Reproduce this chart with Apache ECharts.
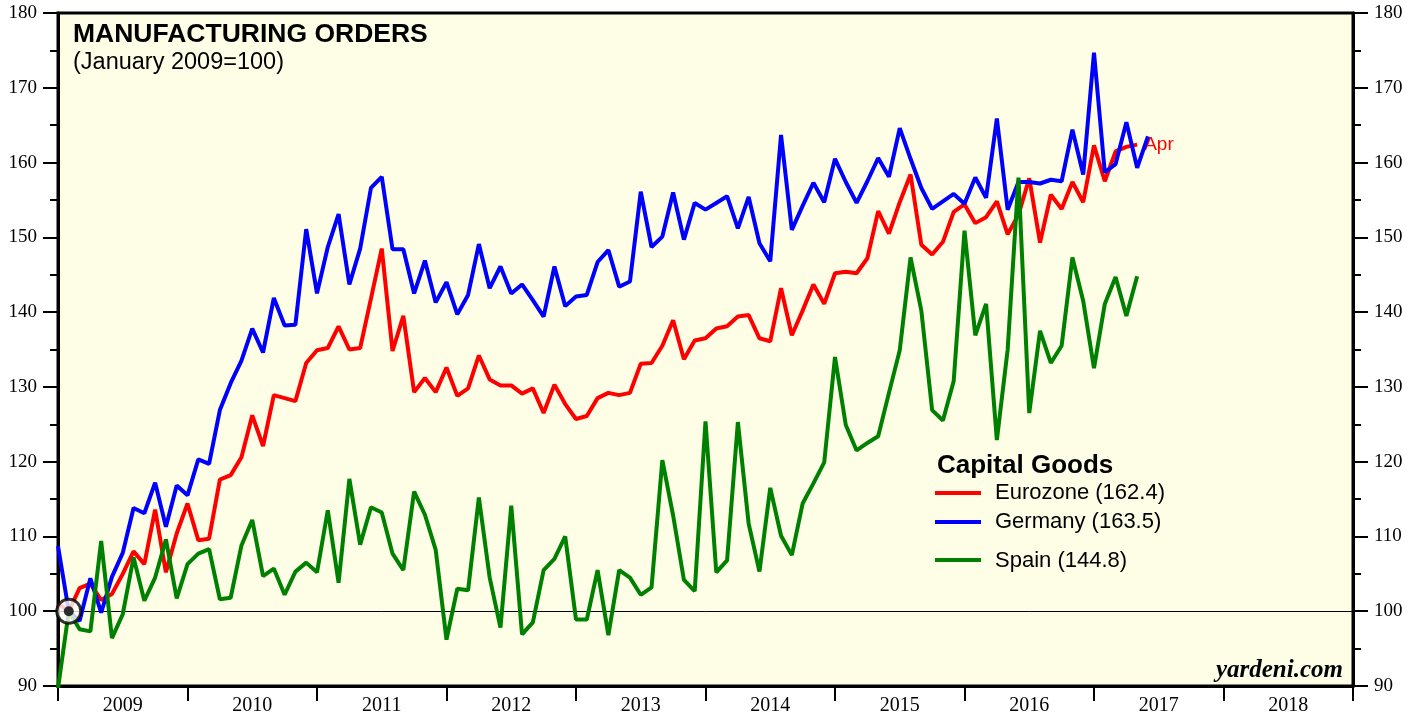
<!DOCTYPE html>
<html><head><meta charset="utf-8">
<script src="https://cdn.jsdelivr.net/npm/echarts@6/dist/echarts.min.js"></script>
<style>html,body{margin:0;padding:0;background:#fff}#c{width:1409px;height:719px}</style>
</head><body><div id="c"></div>
<script>
// Monthly index 0 = Dec 2008 (Jan 2009 = 100 at index 1), last red/green point = Apr 2017
const years = ['2009','2010','2011','2012','2013','2014','2015','2016','2017','2018'];
const seriesNames = ['Eurozone (162.4)','Germany (163.5)','Spain (144.8)'];
const eurozone = [101.0,100.0,103.1,103.7,101.5,102.3,105.0,108.0,106.3,113.6,
105.2,110.4,114.4,109.5,109.7,117.6,118.2,120.6,126.2,122.1,
128.9,128.5,128.1,133.2,134.9,135.2,138.1,135.0,135.2,141.8,
148.5,134.8,139.5,129.3,131.2,129.3,132.6,128.8,129.8,134.2,
131.0,130.2,130.2,129.1,129.8,126.5,130.3,127.7,125.7,126.1,
128.5,129.2,128.9,129.2,133.1,133.2,135.5,138.9,133.7,136.2,
136.5,137.8,138.1,139.4,139.6,136.5,136.1,143.2,136.9,140.2,
143.7,141.1,145.2,145.4,145.2,147.2,153.5,150.5,154.7,158.4,
149.0,147.7,149.4,153.4,154.4,151.9,152.7,154.8,150.4,153.0,
157.9,149.3,155.7,153.8,157.4,154.7,162.3,157.5,161.5,162.1,
162.4];
const germany = [108.7,100.0,98.7,104.4,99.8,104.6,107.8,113.8,113.1,117.2,
111.3,116.8,115.5,120.3,119.7,126.9,130.5,133.5,137.8,134.6,
141.9,138.2,138.3,151.1,142.5,148.7,153.1,143.7,148.5,156.6,
158.1,148.4,148.4,142.5,146.9,141.3,144.0,139.7,142.3,149.1,
143.2,146.1,142.5,143.7,141.6,139.4,146.1,140.8,142.1,142.3,
146.7,148.3,143.4,144.1,156.1,148.7,150.1,156.0,149.7,154.6,
153.7,154.6,155.5,151.2,155.4,149.2,146.8,163.7,151.0,154.2,
157.3,154.7,160.5,157.4,154.6,157.5,160.6,158.1,164.6,160.5,
156.6,153.8,154.8,155.8,154.5,158.0,155.3,165.9,153.7,157.4,
157.4,157.2,157.7,157.5,164.4,158.4,174.7,158.7,159.8,165.4,
159.3,163.5];
const spain = [89.7,100.0,97.6,97.3,109.4,96.4,99.6,107.2,101.4,104.5,
109.6,101.7,106.3,107.7,108.3,101.6,101.8,108.8,112.2,104.7,
105.7,102.2,105.3,106.5,105.2,113.5,103.8,117.7,108.9,113.9,
113.2,107.7,105.5,116.0,112.9,108.2,96.2,103.0,102.8,115.2,
104.5,97.8,114.1,96.9,98.5,105.5,107.0,110.0,98.9,98.9,
105.5,96.8,105.5,104.5,102.2,103.2,120.2,112.8,104.2,102.7,
125.4,105.2,106.8,125.3,111.7,105.3,116.5,110.1,107.5,114.4,
117.1,119.9,134.0,124.9,121.5,122.5,123.4,129.2,134.9,147.3,
140.2,126.9,125.5,130.8,150.9,136.9,141.1,122.9,135.0,158.0,
126.5,137.5,133.2,135.5,147.3,141.5,132.5,141.1,144.7,139.5,
144.8];
const baseMonth = [[1, 100]];

const toPts = arr => arr.map((v, i) => [i, v]);
const chart = echarts.init(document.getElementById('c'), null, {renderer: 'canvas'});
const serif = '"Liberation Serif","DejaVu Serif",serif';
const sans = '"Liberation Sans",Arial,sans-serif';
const yAxisCommon = {
  type: 'value', min: 90, max: 180, interval: 10,
  axisLine: {show: true, lineStyle: {color: '#000', width: 3}},
  axisTick: {show: true, length: 15, lineStyle: {color: '#000', width: 2}},
  minorTick: {show: true, splitNumber: 2, length: 8, lineStyle: {color: '#000', width: 2}},
  splitLine: {show: false},
  axisLabel: {fontFamily: serif, fontSize: 19, color: '#000', margin: 21}
};
const lineCommon = {type: 'line', xAxisIndex: 0, yAxisIndex: 0, showSymbol: false, symbol: 'none', animation: false};

chart.setOption({
  animation: false,
  backgroundColor: '#fff',
  grid: {left: 58, right: 56, top: 13, bottom: 33, show: true, backgroundColor: '#fefee6', borderColor: '#000', borderWidth: 3},
  xAxis: [
    {type: 'value', min: 0, max: 120, show: false},
    {type: 'category', data: years, boundaryGap: true, position: 'bottom',
     axisLine: {show: true, lineStyle: {color: '#000', width: 3}},
     axisTick: {show: true, length: 15, interval: 0, lineStyle: {color: '#000', width: 2}},
     axisLabel: {fontFamily: serif, fontSize: 20, color: '#000', margin: 10, interval: 0}}
  ],
  yAxis: [
    Object.assign({position: 'left'}, yAxisCommon),
    Object.assign({position: 'right'}, yAxisCommon)
  ],
  series: [
    Object.assign({}, lineCommon, {name: seriesNames[0], data: toPts(eurozone), z: 3,
      lineStyle: {color: '#ff0000', width: 4},
      endLabel: {show: true, formatter: 'Apr', color: '#ff0000', fontFamily: sans, fontSize: 19, distance: 7},
      markLine: {silent: true, symbol: 'none', label: {show: false}, lineStyle: {color: '#000', width: 1, type: 'solid'}, data: [{yAxis: 100}], z: 1}}),
    Object.assign({}, lineCommon, {name: seriesNames[1], data: toPts(germany), z: 4,
      lineStyle: {color: '#0000ff', width: 4}}),
    Object.assign({}, lineCommon, {name: seriesNames[2], data: toPts(spain), z: 5,
      lineStyle: {color: '#008000', width: 4}}),
    {type: 'scatter', xAxisIndex: 0, yAxisIndex: 0, data: baseMonth, symbol: 'circle', symbolSize: 24, z: 10,
     itemStyle: {color: '#fff', borderColor: '#000', borderWidth: 3}, silent: true},
    {type: 'scatter', xAxisIndex: 0, yAxisIndex: 0, data: baseMonth, symbol: 'circle', symbolSize: 10, z: 11,
     itemStyle: {color: '#000'}, silent: true}
  ],
  graphic: [
    {type: 'text', left: 73, top: 21, style: {text: 'MANUFACTURING ORDERS', font: 'bold 26.5px ' + sans, fill: '#000'}},
    {type: 'text', left: 73, top: 51, style: {text: '(January 2009=100)', font: '23.5px ' + sans, fill: '#000'}},
    {type: 'text', left: 937, top: 453, style: {text: 'Capital Goods', font: 'bold 26px ' + sans, fill: '#000'}},
    {type: 'line', shape: {x1: 935, y1: 493, x2: 981, y2: 493}, style: {stroke: '#ff0000', lineWidth: 4}},
    {type: 'line', shape: {x1: 935, y1: 522, x2: 981, y2: 522}, style: {stroke: '#0000ff', lineWidth: 4}},
    {type: 'line', shape: {x1: 935, y1: 560, x2: 981, y2: 560}, style: {stroke: '#008000', lineWidth: 4}},
    {type: 'text', left: 995, top: 482, style: {text: seriesNames[0], font: '22px ' + sans, fill: '#000'}},
    {type: 'text', left: 995, top: 511, style: {text: seriesNames[1], font: '22px ' + sans, fill: '#000'}},
    {type: 'text', left: 995, top: 550, style: {text: seriesNames[2], font: '22px ' + sans, fill: '#000'}},
    {type: 'text', right: 66, top: 658, style: {text: 'yardeni.com', font: 'italic bold 25px ' + serif, fill: '#000'}}
  ]
});
</script></body></html>
